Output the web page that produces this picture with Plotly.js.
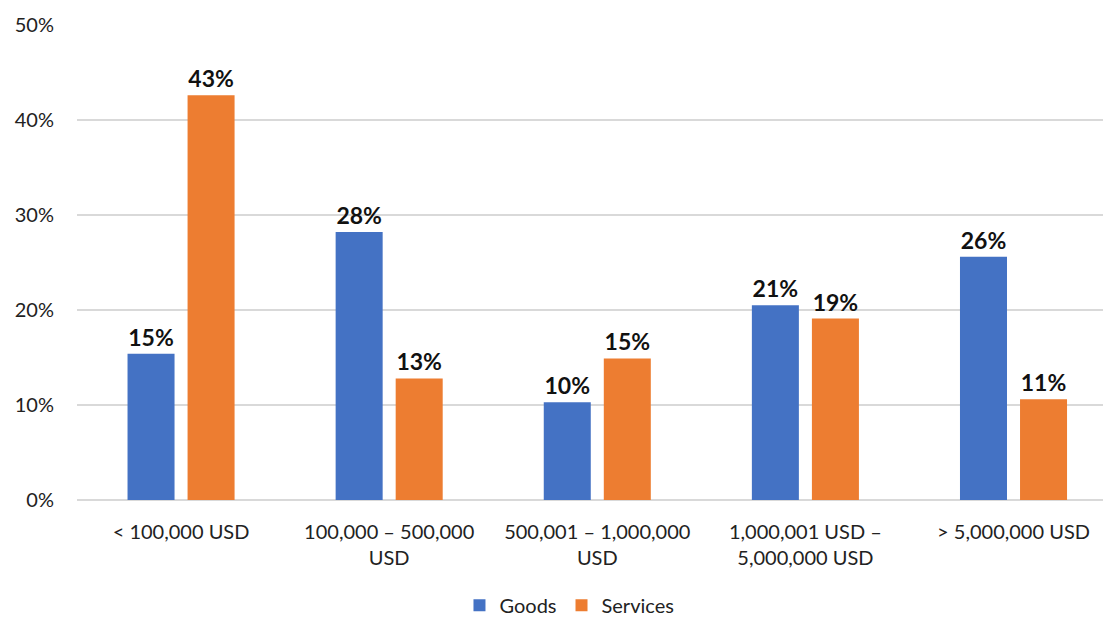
<!DOCTYPE html>
<html>
<head>
<meta charset="utf-8">
<script src="https://cdn.plot.ly/plotly-3.0.1.min.js"></script>
<style>html,body{margin:0;padding:0;background:#fff;}#chart{width:1105px;height:624px;}</style>
</head>
<body>
<div id="chart"></div>
<script>
const categories = ["< 100,000 USD", "100,000 – 500,000<br>USD", "500,001 – 1,000,000<br>USD", "1,000,001 USD –<br>5,000,000 USD", "> 5,000,000 USD"];
const goods = [15.4, 28.2, 10.3, 20.5, 25.6];
const services = [42.6, 12.8, 14.9, 19.1, 10.6];
const seriesNames = ["Goods", "Services"];
const colors = ["#4472C4", "#ED7D31"];

const fontFam = "Lato, 'Open Sans', sans-serif";
const traces = [goods, services].map((vals, i) => ({
  type: "bar",
  name: seriesNames[i],
  x: categories,
  y: vals,
  marker: {color: colors[i]},
  texttemplate: "%{y:.0f}%",
  textposition: "outside",
  cliponaxis: false,
  textfont: {family: fontFam, size: 23, color: "#111", weight: 700},
  hoverinfo: "skip"
}));

const layout = {
  width: 1105, height: 624,
  margin: {l: 77, r: 2, t: 25, b: 124},
  paper_bgcolor: "#fff", plot_bgcolor: "#fff",
  barmode: "group",
  bargap: 0.423,
  bargroupgap: 0.217,
  font: {family: fontFam, size: 20, color: "#222"},
  xaxis: {
    type: "category",
    range: [-0.5, 4.43],
    showgrid: false,
    showline: false,
    zeroline: false,
    ticks: "",
    tickfont: {size: 20, color: "#222"},
    ticklabelstandoff: 18,
    fixedrange: true
  },
  yaxis: {
    range: [0, 50],
    dtick: 10,
    ticksuffix: "%",
    showgrid: true,
    gridcolor: "#d9d9d9",
    gridwidth: 1.5,
    zeroline: true,
    zerolinecolor: "#d9d9d9",
    zerolinewidth: 1.5,
    showline: false,
    ticks: "",
    tickfont: {size: 20, color: "#222"},
    ticklabelstandoff: 22,
    fixedrange: true
  },
  showlegend: true,
  legend: {
    orientation: "h",
    x: 0.48, xanchor: "center",
    yref: "container",
    y: 0.03, yanchor: "middle",
    font: {size: 20, color: "#222"},
    itemwidth: 30,
    traceorder: "normal"
  }
};

Plotly.newPlot("chart", traces, layout, {displayModeBar: false, staticPlot: true});
</script>
</body>
</html>
